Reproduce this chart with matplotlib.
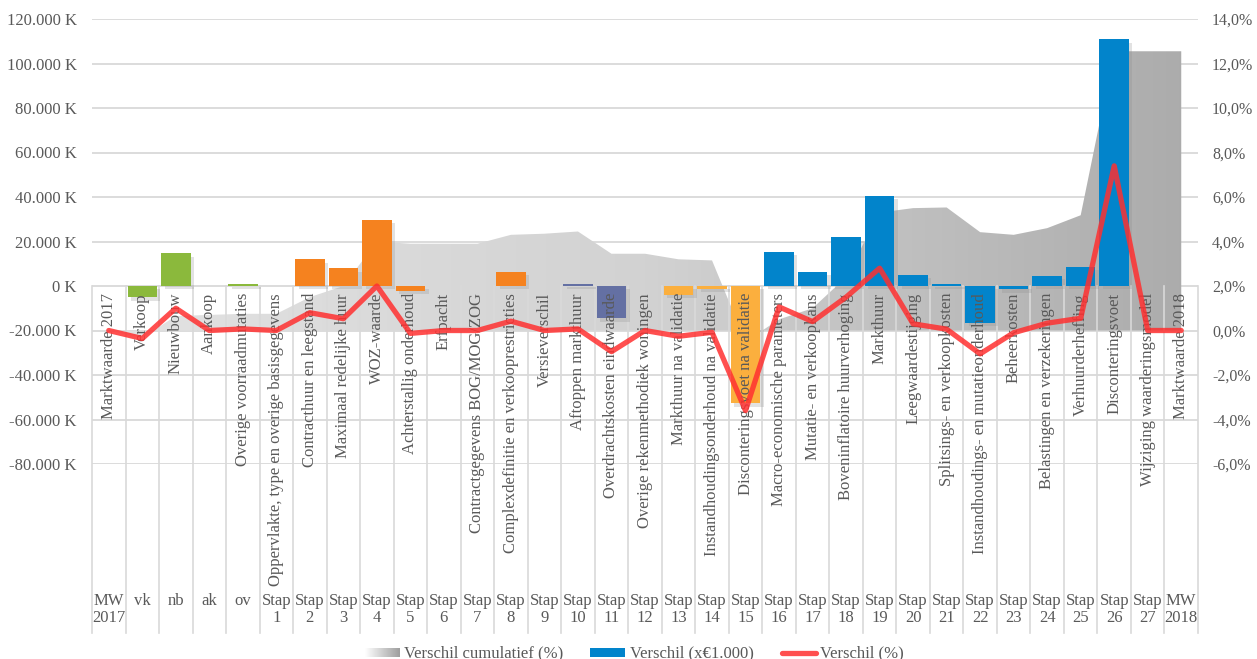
import numpy as np
import matplotlib
matplotlib.use("Agg")
import matplotlib.pyplot as plt
import matplotlib.patheffects as pe
from matplotlib.colors import LinearSegmentedColormap
from matplotlib.patches import Rectangle
from matplotlib.lines import Line2D
import matplotlib.transforms as mtransforms

# =========================
# DATA
# =========================
STAP_LABELS = [
    "Marktwaarde 2017", "Verkoop", "Nieuwbouw", "Aankoop", "Overige voorraadmutaties",
    "Oppervlakte, type en overige basisgegevens", "Contracthuur en leegstand",
    "Maximaal redelijke huur", "WOZ-waarde", "Achterstallig onderhoud", "Erfpacht",
    "Contractgegevens BOG/MOG/ZOG", "Complexdefinitie en verkooprestricties",
    "Versieverschil", "Aftoppen markthuur", "Overdrachtskosten eindwaarde",
    "Overige rekenmethodiek woningen", "Markthuur na validatie",
    "Instandhoudingsonderhoud na validatie", "Disconteringsvoet na validatie",
    "Macro-economische parameters", "Mutatie- en verkoopkans",
    "Boveninflatoire huurverhoging", "Markthuur", "Leegwaardestijging",
    "Splitsings- en verkoopkosten", "Instandhoudings- en mutatieonderhoud",
    "Beheerkosten", "Belastingen en verzekeringen", "Verhuurderheffing",
    "Disconteringsvoet", "Wijziging waarderingsmodel", "Marktwaarde 2018",
]
SHORT_LABELS = (["MW\n2017", "vk", "nb", "ak", "ov"]
                + [f"Stap\n{i}" for i in range(1, 28)]
                + ["MW\n2018"])

# Verschil (x EUR 1.000)
verschil = [
    0, -5000, 14800, 0, 1000,
    0, 12000, 8000, 29700, -2100, 0, 0, 6300, 0, 1100,
    -14500, 0, -4000, -1200, -52700,
    15500, 6300, 21800, 40500, 5000, 900, -16500, -1500, 4500, 8700, 110800,
    0, 0,
]
# Verschil (%)
verschil_pct = [
    0.0, -0.36, 1.0, 0.0, 0.07,
    0.0, 0.8, 0.53, 2.0, -0.13, 0.0, 0.0, 0.42, 0.0, 0.07,
    -0.95, 0.0, -0.26, -0.08, -3.6,
    1.06, 0.4, 1.5, 2.8, 0.3, 0.06, -1.05, -0.1, 0.33, 0.55, 7.4,
    0.0, 0.0,
]
# Verschil cumulatief (%)
cumulatief_pct = [
    0.0, -0.33, 0.65, 0.7, 0.75,
    0.75, 1.5, 2.0, 4.0, 3.9, 3.9, 3.9, 4.3, 4.35, 4.45,
    3.45, 3.45, 3.2, 3.15, -0.5,
    0.5, 1.0, 2.4, 5.3, 5.5, 5.53, 4.42, 4.3, 4.6, 5.18, 12.55,
    12.55, 12.55,
]

GREEN, ORANGE, SLATE, LORANGE, BLUE = "#8BB93C", "#F5821F", "#6470A3", "#FBAF3E", "#0284CB"
bar_colors = ([GREEN] * 5 + [ORANGE] * 8 + [SLATE] * 4 + [LORANGE] * 3
              + [BLUE] * 11 + [BLUE] * 2)

TEXT = "#595959"
GRID = "#D9D9D9"
FS = 12
plt.rcParams["font.family"] = ["Liberation Serif", "DejaVu Serif"]
plt.rcParams["font.size"] = FS


def pct_to_left(p):
    return -20000 + np.asarray(p) * 10000


def left_to_pct(v):
    return (np.asarray(v) + 20000) / 10000


# =========================
# FIGURE
# =========================
W, H = 1257, 659
fig = plt.figure(figsize=(W / 100, H / 100), dpi=100)
ax = fig.add_axes([92 / W, (H - 464) / H, 1106 / W, 445 / H])

n = len(verschil)
x = np.arange(n)
ax.set_xlim(-0.5, n - 0.5)
ax.set_ylim(-80000, 120000)

# horizontal gridlines
for v in range(-80000, 120001, 20000):
    ax.axhline(v, color=GRID, lw=1.3, zorder=0)

# cumulative area with horizontal gradient
base = pct_to_left(0)
area = ax.fill_between(x, base, pct_to_left(cumulatief_pct), facecolor="none",
                       edgecolor="none", zorder=1)
cmap = LinearSegmentedColormap.from_list("grey", ["#E3E3E3", "#D2D2D2", "#ABABAB"])
grad = np.linspace(0, 1, 256).reshape(1, -1)
im = ax.imshow(grad, cmap=cmap, extent=[-0.5, n - 0.5, -80000, 120000],
               aspect="auto", zorder=1, interpolation="bilinear")
im.set_clip_path(area.get_paths()[0], transform=ax.transData)
ax.set_xlim(-0.5, n - 0.5)
ax.set_ylim(-80000, 120000)

# table lines below the axis
table_bottom = -156000
for b in np.arange(-0.5, n, 1.0):
    ax.plot([b, b], [0, table_bottom], color=GRID, lw=1.2, zorder=2, clip_on=False)

# bars
bars = ax.bar(x, verschil, width=0.88, color=bar_colors, zorder=3)
for b in bars:
    b.set_path_effects([pe.SimplePatchShadow(offset=(2.5, -2.5), shadow_rgbFace="#8f8f8f",
                                             alpha=0.25), pe.Normal()])

# category labels (level 1, rotated)
trans = mtransforms.blended_transform_factory(ax.transData, ax.transAxes)
y_top = (464 - 293) / 445
for i, lab in enumerate(STAP_LABELS):
    ax.text(i, y_top, lab, rotation=90, ha="center", va="top", color=TEXT,
            fontsize=FS, transform=trans, zorder=4)

# category labels (level 2)
y_lvl2 = (464 - 593) / 445
for i, lab in enumerate(SHORT_LABELS):
    ax.text(i, y_lvl2, lab, ha="center", va="top", color=TEXT, fontsize=FS,
            linespacing=1.05, transform=trans, clip_on=False)

# red line
ax.plot(x, pct_to_left(verschil_pct), color="#FF3030", alpha=0.85, lw=3.8,
        solid_joinstyle="round", solid_capstyle="round", zorder=5)

# axes styling
for s in ax.spines.values():
    s.set_visible(False)
ax.set_xticks([])
ax.set_yticks(range(-80000, 120001, 20000))
ax.set_yticklabels([f"{v:,.0f}".replace(",", ".") + " K" for v in range(-80000, 120001, 20000)])
ax.tick_params(axis="y", length=0, pad=11, colors=TEXT, labelsize=FS)

sec = ax.secondary_yaxis("right", functions=(left_to_pct, pct_to_left))
sec.set_yticks(range(-6, 15, 2))
sec.set_yticklabels([f"{p:.1f}%".replace(".", ",") for p in range(-6, 15, 2)])
sec.tick_params(axis="y", length=0, pad=10, colors=TEXT, labelsize=11.5)
for s in sec.spines.values():
    s.set_visible(False)

# =========================
# LEGEND (manual)
# =========================
ly = (H - 653) / H
gax = fig.add_axes([365 / W, (H - 657) / H, 35 / W, 9 / H])
gax.imshow(grad, cmap=LinearSegmentedColormap.from_list("lg", ["#FFFFFF", "#9E9E9E"]),
           aspect="auto", extent=[0, 1, 0, 1])
gax.set_axis_off()
fig.text(404 / W, ly, "Verschil cumulatief (%)", va="center", ha="left", color=TEXT, fontsize=FS)
fig.patches.append(Rectangle((590 / W, (H - 657) / H), 35 / W, 9 / H, facecolor=BLUE,
                             edgecolor="none", transform=fig.transFigure, figure=fig))
fig.text(630 / W, ly, "Verschil (x€1.000)", va="center", ha="left", color=TEXT, fontsize=FS)
fig.lines.append(Line2D([782 / W, 816 / W], [ly, ly], color="#FF3030", alpha=0.85, lw=3.8,
                        solid_capstyle="round", transform=fig.transFigure, figure=fig))
fig.text(820 / W, ly, "Verschil (%)", va="center", ha="left", color=TEXT, fontsize=FS)

fig.savefig("out.png", dpi=100)
